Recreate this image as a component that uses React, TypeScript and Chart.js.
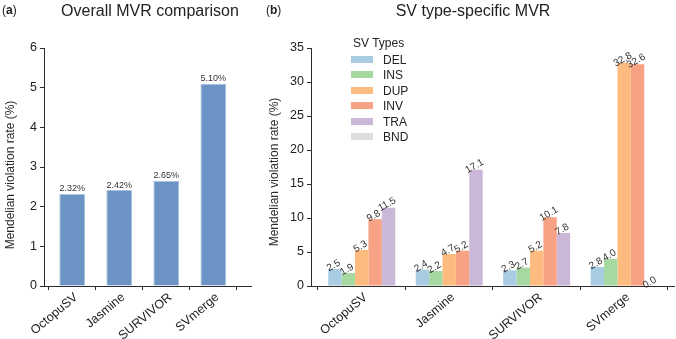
import React, { useEffect, useRef } from 'react';
import { Chart, registerables } from 'chart.js';

Chart.register(...registerables);

// ---- data ----
const tools = ['OctopuSV', 'Jasmine', 'SURVIVOR', 'SVmerge'];
const overallMvr = [2.32, 2.42, 2.65, 5.1];
const overallYTicks = [0, 1, 2, 3, 4, 5, 6];

const svTypes = ['DEL', 'INS', 'DUP', 'INV', 'TRA', 'BND'];
const svColors = ['#a8cde3', '#a6d9a0', '#fdbb80', '#f7a285', '#cbb8d8', '#dddddd'];
const delMvr = [2.5, 2.4, 2.3, 2.8];
const insMvr = [1.9, 2.2, 2.7, 4.0];
const dupMvr = [5.3, 4.7, 5.2, 32.8];
const invMvr = [9.8, 5.2, 10.1, 32.6];
const traMvr = [11.5, 17.1, 7.8, 0.0];
const typeYTicks = [0, 5, 10, 15, 20, 25, 30, 35];
// BND has no bars, it only appears in the legend
const typeSeries: number[][] = [delMvr, insMvr, dupMvr, invMvr, traMvr];

const yTitle = 'Mendelian violation rate (%)';

// ---- style ----
const FONT = '"Liberation Sans", Arial, Helvetica, sans-serif';
const AXIS = '#2b2b2b';
const TEXT = '#222222';

// Draws the value above each bar
const valueLabels = {
  id: 'valueLabels',
  afterDatasetsDraw(chart: any, _args: any, opts: any) {
    const { ctx } = chart;
    ctx.save();
    ctx.font = `${opts.size}px ${FONT}`;
    ctx.fillStyle = opts.color;
    ctx.textAlign = 'center';
    ctx.textBaseline = 'alphabetic';
    chart.data.datasets.forEach((ds: any, di: number) => {
      const meta = chart.getDatasetMeta(di);
      meta.data.forEach((bar: any, i: number) => {
        const v = ds.data[i].y;
        const text = v.toFixed(opts.decimals) + (opts.suffix || '');
        ctx.save();
        ctx.translate(bar.x, bar.y - opts.gap);
        ctx.rotate((-opts.rotation * Math.PI) / 180);
        ctx.fillText(text, 0, 0);
        ctx.restore();
      });
    });
    ctx.restore();
  },
};

// Vertical axis title, centred on a given point of the canvas
const sideTitle = {
  id: 'sideTitle',
  afterDraw(chart: any, _args: any, opts: any) {
    const { ctx } = chart;
    ctx.save();
    ctx.font = `${opts.size}px ${FONT}`;
    ctx.fillStyle = opts.color;
    ctx.textAlign = 'center';
    ctx.textBaseline = 'middle';
    ctx.translate(opts.x, opts.y);
    ctx.rotate(-Math.PI / 2);
    ctx.fillText(opts.text, 0, 0);
    ctx.restore();
  },
};

function axisOptions(extra: any) {
  return {
    grid: {
      display: true,
      drawOnChartArea: false,
      drawTicks: true,
      tickLength: 4,
      color: AXIS,
      tickColor: AXIS,
    },
    border: { display: true, color: AXIS, width: 1 },
    ...extra,
  };
}

function xScale(min: number, max: number) {
  return axisOptions({
    type: 'linear',
    min,
    max,
    offset: false,
    afterBuildTicks: (s: any) => {
      s.ticks = tools.map((_, i) => ({ value: i }));
    },
    afterFit: (s: any) => {
      s.height = 53;
    },
    ticks: {
      autoSkip: false,
      minRotation: 40,
      maxRotation: 40,
      padding: 0,
      labelOffset: 4,
      color: TEXT,
      font: { size: 12.5, family: FONT },
      callback: (v: number) => tools[v],
    },
  });
}

function yScale(ticks: number[], width: number) {
  return axisOptions({
    type: 'linear',
    min: ticks[0],
    max: ticks[ticks.length - 1],
    afterBuildTicks: (s: any) => {
      s.ticks = ticks.map((value) => ({ value }));
    },
    afterFit: (s: any) => {
      s.width = width;
    },
    ticks: {
      padding: 3,
      color: TEXT,
      font: { size: 12.5, family: FONT },
    },
  });
}

function useChart(ref: React.RefObject<HTMLCanvasElement | null>, build: () => any) {
  useEffect(() => {
    if (!ref.current) return;
    const chart = new Chart(ref.current, build());
    return () => chart.destroy();
  }, []);
}

function OverallChart() {
  const ref = useRef<HTMLCanvasElement>(null);
  useChart(ref, () => ({
    type: 'bar',
    data: {
      datasets: [
        {
          data: overallMvr.map((y, i) => ({ x: i, y })),
          backgroundColor: '#6b93c3',
          borderColor: '#aac2df',
          borderWidth: 1,
          categoryPercentage: 0.55,
          barPercentage: 1,
        },
      ],
    },
    options: {
      responsive: false,
      animation: false,
      layout: { padding: { left: 0, top: 48, right: 7, bottom: 0 } },
      plugins: {
        legend: { display: false },
        tooltip: { enabled: false },
        valueLabels: { size: 9, color: '#333', decimals: 2, suffix: '%', rotation: 0, gap: 2.5 },
        sideTitle: { text: yTitle, size: 12, color: '#2a2a2a', x: 11, y: 175 },
      },
      scales: {
        x: xScale(-0.6, 3.8),
        y: yScale(overallYTicks, 44),
      },
    },
    plugins: [valueLabels, sideTitle],
  }));
  return <canvas ref={ref} width={258} height={339} style={{ position: 'absolute', left: 0, top: 0 }} />;
}

function TypeChart() {
  const ref = useRef<HTMLCanvasElement>(null);
  useChart(ref, () => ({
    type: 'bar',
    data: {
      datasets: typeSeries.map((vals, t) => ({
        label: svTypes[t],
        data: vals.map((y, i) => ({ x: i, y })),
        backgroundColor: svColors[t],
        borderWidth: 0,
        categoryPercentage: 0.766,
        barPercentage: 1,
      })),
    },
    options: {
      responsive: false,
      animation: false,
      layout: { padding: { left: 0, top: 48, right: 2, bottom: 0 } },
      plugins: {
        legend: { display: false },
        tooltip: { enabled: false },
        valueLabels: { size: 10, color: '#333', decimals: 1, suffix: '', rotation: 30, gap: 1 },
        sideTitle: { text: yTitle, size: 12, color: '#2a2a2a', x: 17, y: 172 },
      },
      scales: {
        x: xScale(-0.58, 3.57),
        y: yScale(typeYTicks, 53),
      },
    },
    plugins: [valueLabels, sideTitle],
  }));
  return <canvas ref={ref} width={418} height={339} style={{ position: 'absolute', left: 258, top: 0 }} />;
}

const textBase: React.CSSProperties = {
  position: 'absolute',
  fontFamily: FONT,
  color: TEXT,
  fontWeight: 'normal',
  lineHeight: 1,
  whiteSpace: 'nowrap',
};

function Legend() {
  return (
    <div style={{ position: 'absolute', left: 0, top: 0 }}>
      <div style={{ ...textBase, left: 353, top: 37, fontSize: 12 }}>SV Types</div>
      {svTypes.map((t, i) => (
        <React.Fragment key={t}>
          <div
            style={{
              position: 'absolute',
              left: 351,
              top: 55.5 + i * 15.5,
              width: 22,
              height: 7,
              background: svColors[i],
            }}
          />
          <div style={{ ...textBase, left: 383, top: 53.5 + i * 15.5, fontSize: 12 }}>{t}</div>
        </React.Fragment>
      ))}
    </div>
  );
}

export default function App() {
  return (
    <div
      style={{
        position: 'fixed',
        left: 0,
        top: 0,
        width: 676,
        height: 339,
        background: '#ffffff',
        overflow: 'hidden',
      }}
    >
      <OverallChart />
      <TypeChart />
      <div style={{ ...textBase, left: 2, top: 4, fontSize: 12 }}>
        (<b>a</b>)
      </div>
      <div style={{ ...textBase, left: 266, top: 4, fontSize: 12 }}>
        (<b>b</b>)
      </div>
      <div style={{ ...textBase, left: 150, top: 3, fontSize: 16, transform: 'translateX(-50%)' }}>
        Overall MVR comparison
      </div>
      <div style={{ ...textBase, left: 473, top: 3, fontSize: 16, transform: 'translateX(-50%)' }}>
        SV type-specific MVR
      </div>
      <Legend />
    </div>
  );
}
